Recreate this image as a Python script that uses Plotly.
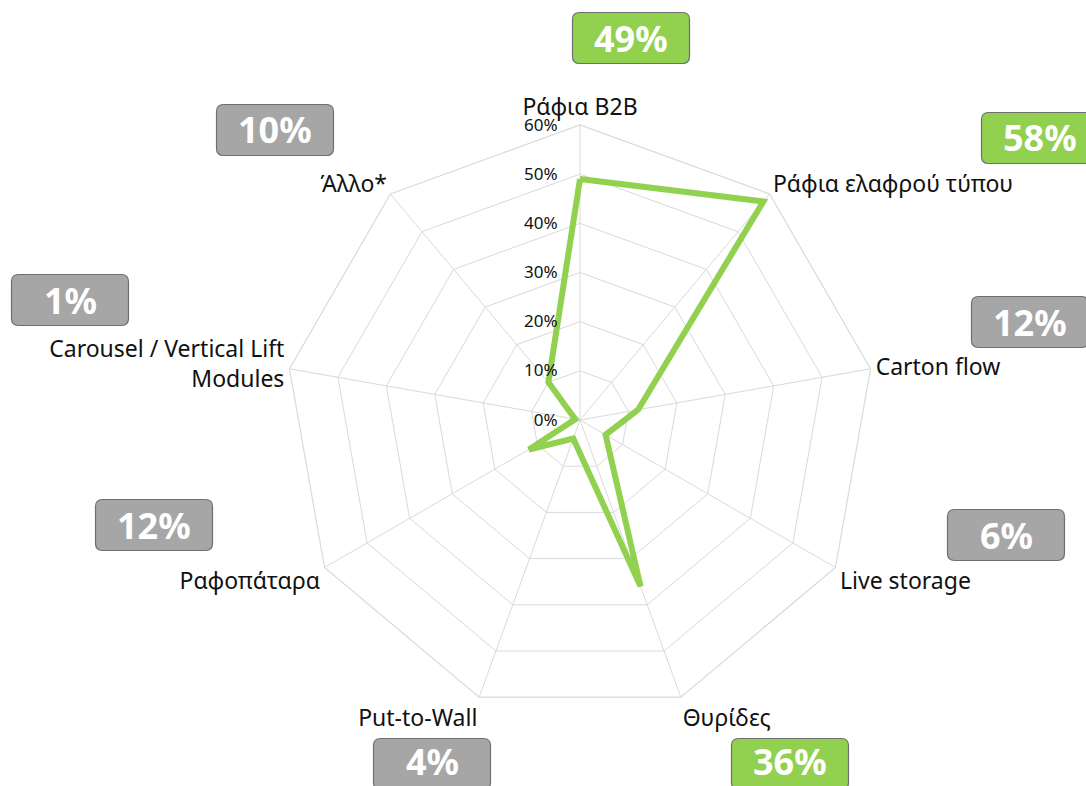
import plotly.graph_objects as go

categories = ["Ράφια B2B", "Ράφια ελαφρού τύπου", "Carton flow", "Live storage",
              "Θυρίδες", "Put-to-Wall", "Ραφοπάταρα",
              "Carousel / Vertical Lift<br>Modules", "Άλλο*"]
values = [49, 58, 12, 6, 36, 4, 12, 1, 10]
radial_ticks = [0, 10, 20, 30, 40, 50, 60]
tick_labels = [f"{t}%" for t in radial_ticks]

W, H = 1086, 786
GREEN = "#92d050"
GRAY = "#a6a6a6"
GRID = "#d9d9d9"
FONT = "Noto Sans"

# box centres (pixels) for the percentage callouts, in category order
box_px = [(631, 38), (1040, 138), (1030, 322), (1006, 535), (790, 764),
          (432, 764), (154, 525), (70, 300), (275, 130)]
BOX_W, BOX_H, BOX_R = 117, 51, 7

top3 = sorted(values, reverse=True)[:3]

cx, cy, R = 580, 420, 295


def rounded_rect_path(x0, y0, x1, y1, r):
    # pixel coords -> paper coords path with rounded corners
    def p(x, y):
        return f"{x / W:.5f},{1 - y / H:.5f}"
    return (f"M {p(x0 + r, y0)} L {p(x1 - r, y0)} Q {p(x1, y0)} {p(x1, y0 + r)} "
            f"L {p(x1, y1 - r)} Q {p(x1, y1)} {p(x1 - r, y1)} "
            f"L {p(x0 + r, y1)} Q {p(x0, y1)} {p(x0, y1 - r)} "
            f"L {p(x0, y0 + r)} Q {p(x0, y0)} {p(x0 + r, y0)} Z")


fig = go.Figure()
fig.add_trace(go.Scatterpolar(
    r=values + values[:1],
    theta=categories + categories[:1],
    mode="lines",
    line=dict(color=GREEN, width=6),
    hoverinfo="skip",
))

annotations = []
shapes = []
for v, (px, py) in zip(values, box_px):
    shapes.append(dict(
        type="path", xref="paper", yref="paper",
        path=rounded_rect_path(px - BOX_W / 2, py - BOX_H / 2, px + BOX_W / 2, py + BOX_H / 2, BOX_R),
        fillcolor=GREEN if v in top3 else GRAY,
        line=dict(color="#6f6f6f", width=1.2),
        layer="above",
    ))
    ty = min(py, 761)
    annotations.append(dict(
        x=px / W, y=1 - ty / H, xref="paper", yref="paper",
        text=f"<b>{v}%</b>", showarrow=False,
        font=dict(family=FONT, size=36, color="white"),
        xanchor="center", yanchor="middle",
    ))

fig.update_layout(
    width=W, height=H,
    margin=dict(l=0, r=0, t=0, b=0),
    paper_bgcolor="white", plot_bgcolor="white",
    showlegend=False,
    font=dict(family=FONT, color="#111111"),
    polar=dict(
        domain=dict(x=[(cx - R) / W, (cx + R) / W], y=[1 - (cy + R) / H, 1 - (cy - R) / H]),
        bgcolor="white",
        gridshape="linear",
        angularaxis=dict(
            rotation=90, direction="clockwise",
            gridcolor=GRID, gridwidth=1.2,
            linecolor=GRID, linewidth=1.2,
            showline=True, ticks="",
            tickfont=dict(family=FONT, size=23, color="#111111"),
        ),
        radialaxis=dict(
            range=[0, 60], angle=90, side="counterclockwise",
            tickvals=radial_ticks, ticktext=tick_labels,
            showline=False, ticks="outside", ticklen=16, tickcolor="rgba(0,0,0,0)",
            gridcolor=GRID, gridwidth=1.2,
            tickfont=dict(family=FONT, size=17, color="#111111"),
            tickangle=90,
        ),
    ),
    shapes=shapes,
    annotations=annotations,
)

fig.write_html("out.html", config={"displayModeBar": False},
               post_script="document.body.style.margin='0';document.body.style.overflow='hidden';")
